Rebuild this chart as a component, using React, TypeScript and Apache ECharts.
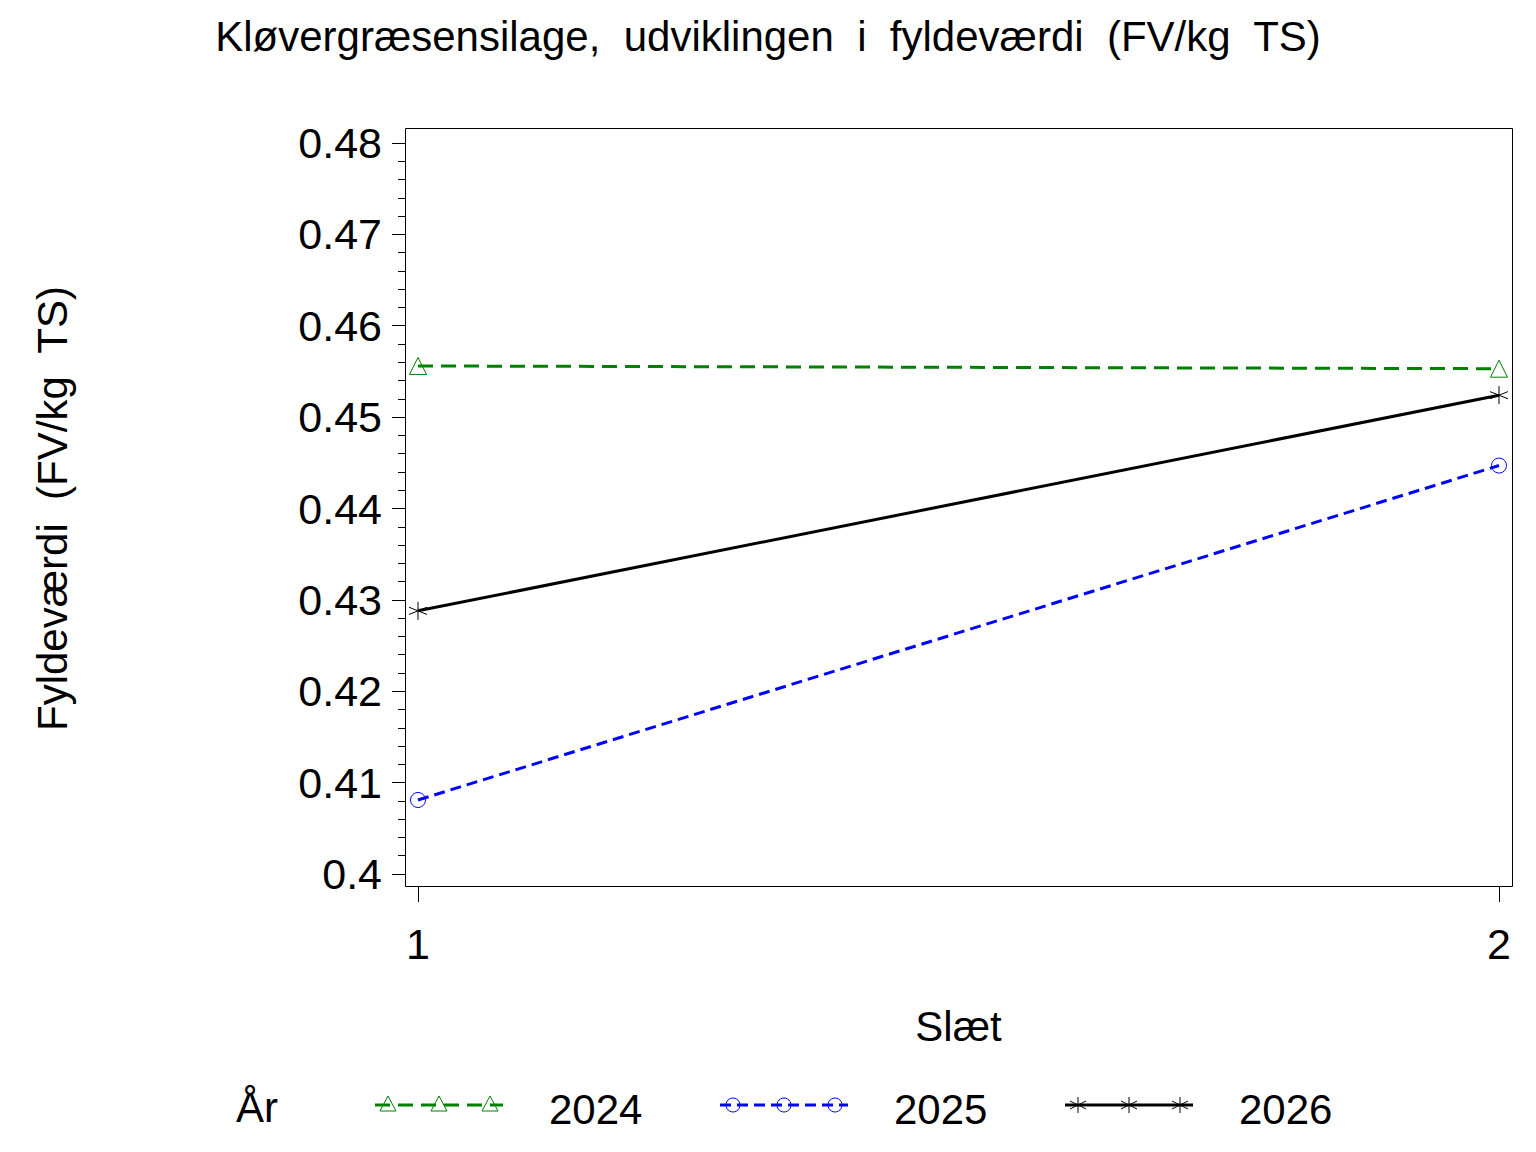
import React, { useEffect, useRef } from "react";
import * as echarts from "echarts";

const titleText = "Kløvergræsensilage,  udviklingen  i  fyldeværdi  (FV/kg  TS)";
const yAxisTitle = "Fyldeværdi  (FV/kg  TS)";
const xAxisTitle = "Slæt";
const legendTitle = "År";

const slaet = [1, 2];
const years = ["2024", "2025", "2026"];
const values2024 = [0.4556, 0.4553];
const values2025 = [0.4081, 0.4447];
const values2026 = [0.4288, 0.4524];
const yMin = 0.4;
const yMax = 0.48;
const yInterval = 0.01;

const seriesColors = ["#008000", "#0000ff", "#000000"];
const seriesDash: (number[] | "solid")[] = [[15, 8], [11, 6], "solid"];
const FONT = "Liberation Sans, Arial, Helvetica, sans-serif";

const starPath = "path://M0,-10L0,10M-9,-4L9,4M-9,4L9,-4";

function legendSymbol(kind: number, cx: number, cy: number, color: string): any[] {
  if (kind === 0) {
    return [{
      type: "polygon",
      shape: { points: [[cx, cy - 9], [cx - 8, cy + 6], [cx + 8, cy + 6]] },
      style: { fill: "none", stroke: color, lineWidth: 1 },
    }];
  }
  if (kind === 1) {
    return [{
      type: "circle",
      shape: { cx, cy, r: 7 },
      style: { fill: "none", stroke: color, lineWidth: 1 },
    }];
  }
  return [
    { type: "line", shape: { x1: cx, y1: cy - 8, x2: cx, y2: cy + 8 }, style: { stroke: color, lineWidth: 1 } },
    { type: "line", shape: { x1: cx - 8, y1: cy - 4, x2: cx + 8, y2: cy + 4 }, style: { stroke: color, lineWidth: 1 } },
    { type: "line", shape: { x1: cx - 8, y1: cy + 4, x2: cx + 8, y2: cy - 4 }, style: { stroke: color, lineWidth: 1 } },
  ];
}

export default function App() {
  const ref = useRef<HTMLDivElement>(null);
  useEffect(() => {
    document.body.style.margin = "0";
    if (!ref.current) return;
    const chart = echarts.init(ref.current, null, { renderer: "svg" });
    const allValues = [values2024, values2025, values2026];
    const symbols = ["triangle", "circle", starPath];
    const symbolSizes = [17, 15, 18];

    const series = years.map((y, i) => ({
      name: y,
      type: "line",
      data: slaet.map((s, j) => [s, allValues[i][j]]),
      symbol: symbols[i],
      symbolSize: symbolSizes[i],
      showSymbol: true,
      z: 3 - i,
      lineStyle: { color: seriesColors[i], width: 3, type: seriesDash[i] },
      itemStyle: {
        color: i === 2 ? seriesColors[i] : "transparent",
        borderColor: seriesColors[i],
        borderWidth: 1,
      },
    }));

    const legendElems: any[] = [
      {
        type: "text",
        left: 236,
        top: 1086,
        style: { text: legendTitle, font: `42px ${FONT}`, fill: "#000" },
      },
    ];
    years.forEach((y, i) => {
      const lx = 375 + i * 345;
      const ly = 1105;
      legendElems.push({
        type: "line",
        shape: { x1: lx, y1: ly, x2: lx + 128, y2: ly },
        style: {
          stroke: seriesColors[i],
          lineWidth: 3,
          lineDash: seriesDash[i] === "solid" ? null : seriesDash[i],
        },
      });
      [13, 64, 115].forEach((off) => {
        legendElems.push(...legendSymbol(i, lx + off, ly, seriesColors[i]));
      });
      legendElems.push({
        type: "text",
        left: lx + 174,
        top: 1088,
        style: { text: y, font: `42px ${FONT}`, fill: "#000" },
      });
    });

    chart.setOption({
      animation: false,
      backgroundColor: "#fff",
      title: {
        text: titleText,
        left: "center",
        top: 10,
        textStyle: { fontFamily: FONT, fontSize: 42, fontWeight: "normal", color: "#000" },
      },
      grid: { left: 418, right: 37, top: 143, bottom: 278, containLabel: false },
      xAxis: {
        type: "value",
        min: 1,
        max: 2,
        interval: 1,
        offset: 12,
        name: xAxisTitle,
        nameLocation: "middle",
        nameGap: 119,
        nameTextStyle: { fontFamily: FONT, fontSize: 42, color: "#000" },
        axisLine: { show: true, lineStyle: { color: "#000", width: 1 } },
        axisTick: { show: true, length: 16, lineStyle: { color: "#000", width: 1 } },
        axisLabel: { fontFamily: FONT, fontSize: 43, color: "#000", margin: 36 },
        splitLine: { show: false },
      },
      yAxis: {
        type: "value",
        min: yMin,
        max: yMax,
        interval: yInterval,
        offset: 13,
        name: yAxisTitle,
        nameLocation: "middle",
        nameRotate: 90,
        nameGap: 332,
        nameTextStyle: { fontFamily: FONT, fontSize: 42, color: "#000" },
        axisLine: { show: true, lineStyle: { color: "#000", width: 1 } },
        axisTick: { show: true, length: 13, lineStyle: { color: "#000", width: 1 } },
        minorTick: { show: true, splitNumber: 5, length: 7, lineStyle: { color: "#000", width: 1 } },
        axisLabel: {
          fontFamily: FONT,
          fontSize: 43,
          color: "#000",
          margin: 23,
          formatter: (v: number) => String(parseFloat(v.toFixed(2))),
        },
        splitLine: { show: false },
      },
      graphic: [
        {
          type: "rect",
          shape: { x: 405.5, y: 128.5, width: 1107, height: 758 },
          style: { fill: "none", stroke: "#000", lineWidth: 1 },
          silent: true,
        },
        ...legendElems,
      ],
      series,
    });
    return () => chart.dispose();
  }, []);
  return <div ref={ref} style={{ width: 1536, height: 1152 }} />;
}
